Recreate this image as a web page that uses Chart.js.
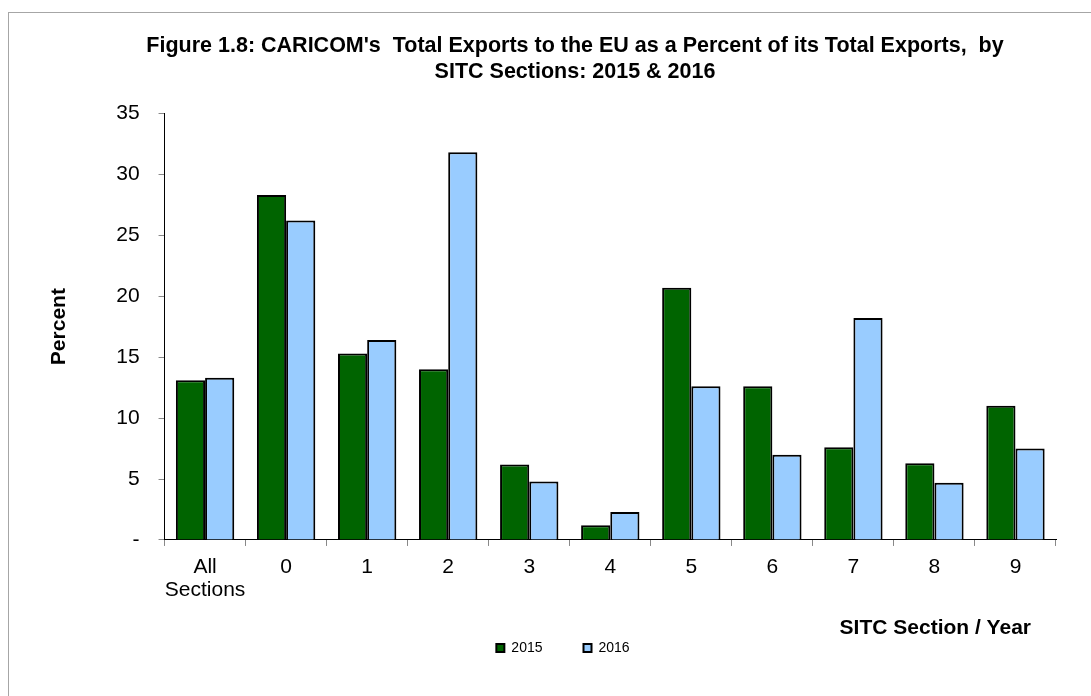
<!DOCTYPE html>
<html>
<head>
<meta charset="utf-8">
<script src="https://cdn.jsdelivr.net/npm/chart.js@4.4.1/dist/chart.umd.min.js"></script>
<style>
  html, body { margin: 0; padding: 0; background: #fff; }
  #wrap { position: relative; width: 1091px; height: 696px; overflow: hidden; }
  #frame { position: absolute; left: 8px; top: 12px; width: 1200px; height: 800px; border-top: 1px solid #a6a6a6; border-left: 1px solid #a6a6a6; }
  canvas { position: absolute; left: 0; top: 0; }
</style>
</head>
<body>
<div id="wrap">
  <div id="frame"></div>
  <canvas id="c" width="1091" height="696"></canvas>
</div>
<script>
const categories = [["All", "Sections"], "0", "1", "2", "3", "4", "5", "6", "7", "8", "9"];
const values2015 = [13.1, 28.3, 15.3, 14.0, 6.2, 1.2, 20.7, 12.6, 7.6, 6.3, 11.0];
const values2016 = [13.3, 26.2, 16.4, 31.8, 4.8, 2.3, 12.6, 7.0, 18.2, 4.7, 7.5];
const seriesNames = ["2015", "2016"];
const titleLines = ["Figure 1.8: CARICOM's  Total Exports to the EU as a Percent of its Total Exports,  by", "SITC Sections: 2015 & 2016"];
const xAxisTitle = "SITC Section / Year";
const yAxisTitle = "Percent";

const FONT = "'Liberation Sans', Arial, sans-serif";

// nudges the title and legend boxes and draws the x-axis title left of the plot's right edge
const layoutTweaks = {
  id: 'layoutTweaks',
  afterLayout(chart) {
    if (chart.legend) {
      chart.legend.left += 15; chart.legend.right += 15;
      chart.legend.top -= 11; chart.legend.bottom -= 11;
    }
    if (chart.titleBlock) { chart.titleBlock.left += 27; chart.titleBlock.right += 27; }
  },
  afterDraw(chart) {
    const ctx = chart.ctx;
    ctx.save();
    ctx.font = "bold 21px " + FONT;
    ctx.fillStyle = '#000';
    ctx.textAlign = 'right';
    ctx.textBaseline = 'middle';
    ctx.fillText(xAxisTitle, chart.chartArea.right - 25, 628);
    ctx.restore();
  }
};

new Chart(document.getElementById('c'), {
  type: 'bar',
  data: {
    labels: categories,
    datasets: [
      { label: seriesNames[0], data: values2015, backgroundColor: '#006400', borderColor: '#000', borderWidth: 2 },
      { label: seriesNames[1], data: values2016, backgroundColor: '#99CCFF', borderColor: '#000', borderWidth: 2 }
    ]
  },
  plugins: [layoutTweaks],
  options: {
    responsive: false,
    animation: false,
    devicePixelRatio: 1,
    layout: { padding: { left: 40, right: 35, top: 20, bottom: 20 } },
    datasets: { bar: { barPercentage: 1.0, categoryPercentage: 0.72 } },
    plugins: {
      title: {
        display: true,
        text: titleLines,
        color: '#000',
        font: { family: FONT, size: 21.5, weight: 'bold', lineHeight: 1.17 },
        padding: { top: 14, bottom: 29 }
      },
      legend: {
        position: 'bottom',
        labels: {
          color: '#000',
          font: { family: FONT, size: 14 },
          boxWidth: 8,
          boxHeight: 8,
          padding: 41
        }
      },
      tooltip: { enabled: false }
    },
    scales: {
      x: {
        grid: { drawOnChartArea: false, drawTicks: true, tickLength: 6, color: '#888', offset: true },
        border: { display: true, color: '#000', width: 1 },
        ticks: { color: '#000', font: { family: FONT, size: 21, lineHeight: 1.12 }, padding: 9, maxRotation: 0, autoSkip: false },
        title: { display: false }
      },
      y: {
        min: 0,
        max: 35,
        ticks: {
          stepSize: 5,
          color: '#000',
          font: { family: FONT, size: 21 },
          padding: 19,
          callback: v => v === 0 ? '-' : String(v)
        },
        grid: { drawOnChartArea: false, drawTicks: true, tickLength: 6, color: '#888' },
        border: { display: true, color: '#000', width: 1 },
        title: {
          display: true,
          text: yAxisTitle,
          color: '#000',
          font: { family: FONT, size: 21, weight: 'bold', lineHeight: 1.2 },
          padding: { top: 7, bottom: 25 }
        }
      }
    }
  }
});
</script>
</body>
</html>
